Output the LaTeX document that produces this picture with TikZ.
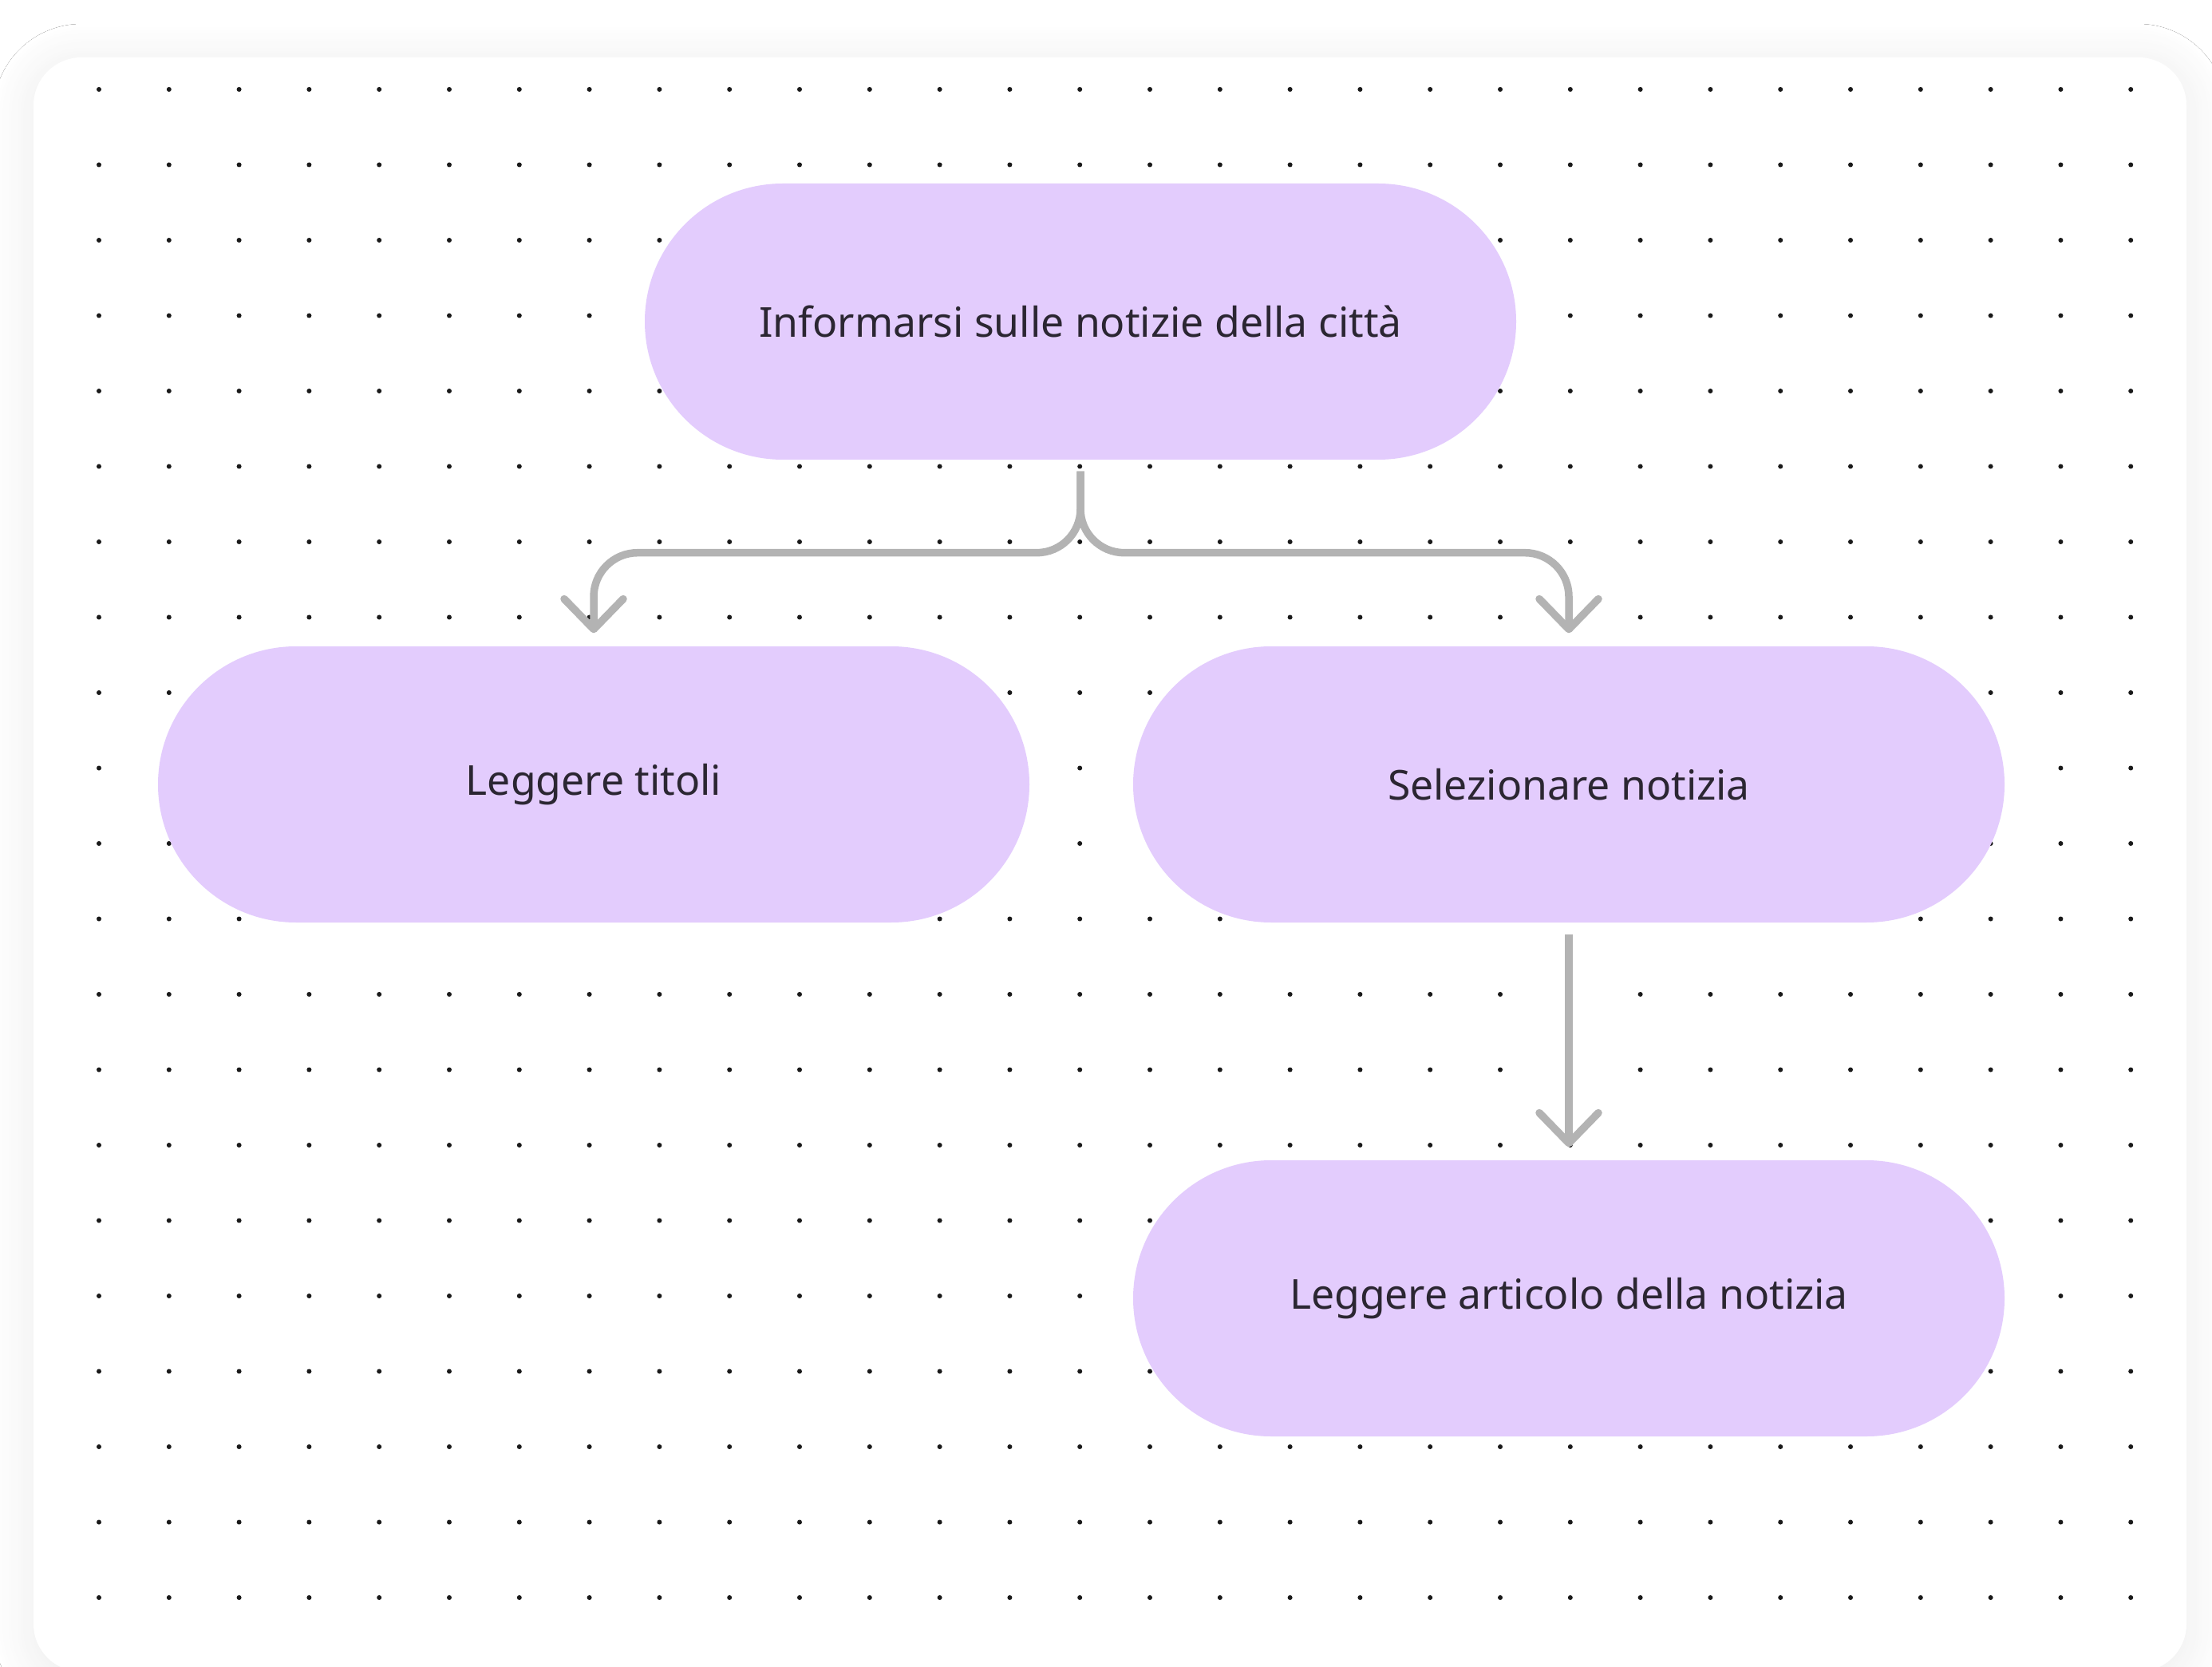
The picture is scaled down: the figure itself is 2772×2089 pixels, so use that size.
\documentclass[tikz,border=0pt]{standalone}
\usepackage{fontspec}
\setmainfont{Noto Sans}
\usetikzlibrary{arrows.meta,shadows.blur}
\definecolor{nodefill}{HTML}{E3CCFD}
\definecolor{txt}{HTML}{2B2632}
\definecolor{connc}{HTML}{B3B3B3}
\tikzset{
  pill/.style={rectangle, rounded corners=17.3mm, minimum width=109.2mm, minimum height=34.6mm,
    inner sep=0pt, fill=nodefill, text=txt, font=\fontsize{14.7}{18}\selectfont},
  connector/.style={draw=connc, line width=0.95mm, rounded corners=5.5mm,
    -{Straight Barb[length=3.8mm,width=7.4mm,round]}, shorten <=1.4mm, shorten >=1.6mm},
}
\begin{document}
\begin{tikzpicture}[x=0.1mm,y=-0.1mm]
\useasboundingbox (0,0) rectangle (2772,2089);
\fill[white] (0,0) rectangle (2772,2089);
\path[fill=white, rounded corners=6mm,
  blur shadow={shadow xshift=0mm, shadow yshift=-0.8mm, shadow blur radius=5mm, shadow opacity=8, shadow blur steps=14}]
  (42,72) rectangle (2740,2095);
\foreach \i in {0,...,29}{
  \foreach \j in {0,...,20}{
    \fill[black!90] (124+87.8*\i, 112+94.5*\j) circle (0.3mm);
  }
}
\node[pill] (top) at (1354,403) {Informarsi sulle notizie della città};
\node[pill] (left) at (744,983) {Leggere titoli};
\node[pill] (sel) at (1966,983) {Selezionare notizia};
\node[pill] (art) at (1966,1627) {Leggere articolo della notizia};
\draw[connector] (top.south) -- ++(0,116) -| (left.north);
\draw[connector] (top.south) -- ++(0,116) -| (sel.north);
\draw[connector] (sel.south) -- (art.north);
\end{tikzpicture}
\end{document}
